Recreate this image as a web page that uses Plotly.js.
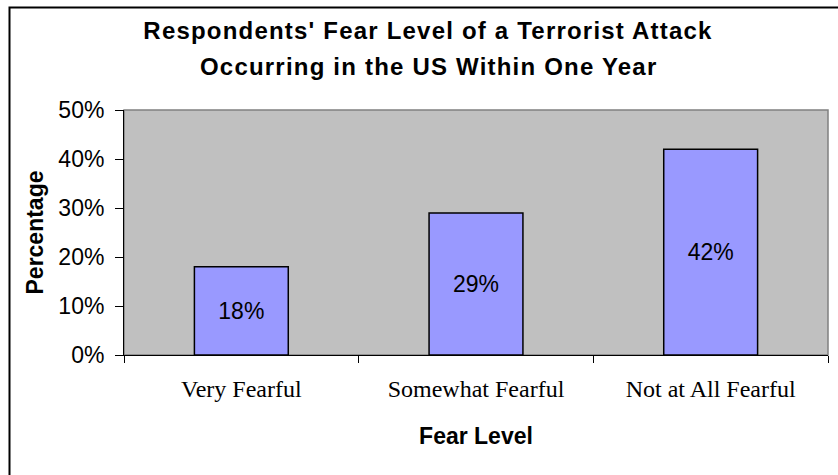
<!DOCTYPE html>
<html>
<head>
<meta charset="utf-8">
<script src="https://cdn.plot.ly/plotly-3.0.1.min.js"></script>
<style>
  html, body { margin: 0; padding: 0; background: #ffffff; }
  #chart { width: 838px; height: 475px; }
  .gtitle, .annotation-text { letter-spacing: 1.2px; }
</style>
</head>
<body>
<div id="chart"></div>
<script>
// Data
const categories = ["Very Fearful", "Somewhat Fearful", "Not at All Fearful"];
const percentages = [18, 29, 42];
const yTickValues = [0, 10, 20, 30, 40, 50];
const yTickLabels = ["0%", "10%", "20%", "30%", "40%", "50%"];
const titleLine1 = "Respondents' Fear Level of a Terrorist Attack";
const titleLine2 = "Occurring in the US Within One Year";
const xTitle = "Fear Level";
const yTitle = "Percentage";

const sansFont = "Arial, 'Liberation Sans', sans-serif";
const serifFont = "'Times New Roman', 'Liberation Serif', serif";

const trace = {
  type: "bar",
  x: categories,
  y: percentages,
  text: percentages.map(v => v + "%"),
  textposition: "inside",
  insidetextanchor: "middle",
  textangle: 0,
  constraintext: "none",
  textfont: { family: sansFont, size: 23, color: "#000000" },
  marker: { color: "#9999FF", line: { color: "#000000", width: 1.5 } },
  hoverinfo: "skip"
};

const layout = {
  width: 838,
  height: 475,
  margin: { l: 124, r: 10, t: 110, b: 120, pad: 0 },
  paper_bgcolor: "#ffffff",
  plot_bgcolor: "#C0C0C0",
  showlegend: false,
  bargap: 0.6,
  title: {
    text: titleLine1,
    font: { family: sansFont, size: 24, color: "#000000", weight: "bold" },
    x: 0.5107, xanchor: "center", xref: "container",
    y: 1 - 31 / 475, yanchor: "middle", yref: "container"
  },
  annotations: [{
    text: titleLine2,
    xref: "paper", yref: "paper",
    x: 0.432, y: (355 - 66) / 245,
    xanchor: "center", yanchor: "middle",
    showarrow: false,
    font: { family: sansFont, size: 24, color: "#000000", weight: "bold" }
  }],
  xaxis: {
    type: "category",
    showline: true, linecolor: "#000000", linewidth: 1,
    ticks: "outside", tickson: "boundaries", ticklen: 7, tickcolor: "#000000", tickwidth: 1,
    tickfont: { family: serifFont, size: 24, color: "#000000" },
    ticklabelstandoff: 12,
    showgrid: false, zeroline: false,
    automargin: false,
    title: { text: xTitle, font: { family: sansFont, size: 23, color: "#000000", weight: "bold" }, standoff: 27 }
  },
  yaxis: {
    range: [0, 50],
    tickmode: "array",
    tickvals: yTickValues,
    ticktext: yTickLabels,
    showline: true, linecolor: "#000000", linewidth: 1,
    ticks: "outside", ticklen: 8, tickcolor: "#000000", tickwidth: 1,
    tickfont: { family: sansFont, size: 23, color: "#000000" },
    ticklabelstandoff: 6,
    showgrid: false, zeroline: false,
    automargin: false,
    title: { text: yTitle, font: { family: sansFont, size: 23, color: "#000000", weight: "bold" }, standoff: 8 }
  },
  shapes: [
    { type: "rect", xref: "paper", yref: "paper", x0: 0, x1: 1, y0: 0, y1: 1,
      line: { color: "#808080", width: 1.5 }, fillcolor: "rgba(0,0,0,0)", layer: "below" },
    { type: "rect", xref: "paper", yref: "paper",
      x0: (9.5 - 124) / 704, x1: (850 - 124) / 704,
      y0: (355 - 490) / 245, y1: (355 - 7.5) / 245,
      line: { color: "#000000", width: 2 }, fillcolor: "rgba(0,0,0,0)", layer: "above" }
  ]
};

Plotly.newPlot("chart", [trace], layout, { staticPlot: true, displayModeBar: false });
</script>
</body>
</html>
